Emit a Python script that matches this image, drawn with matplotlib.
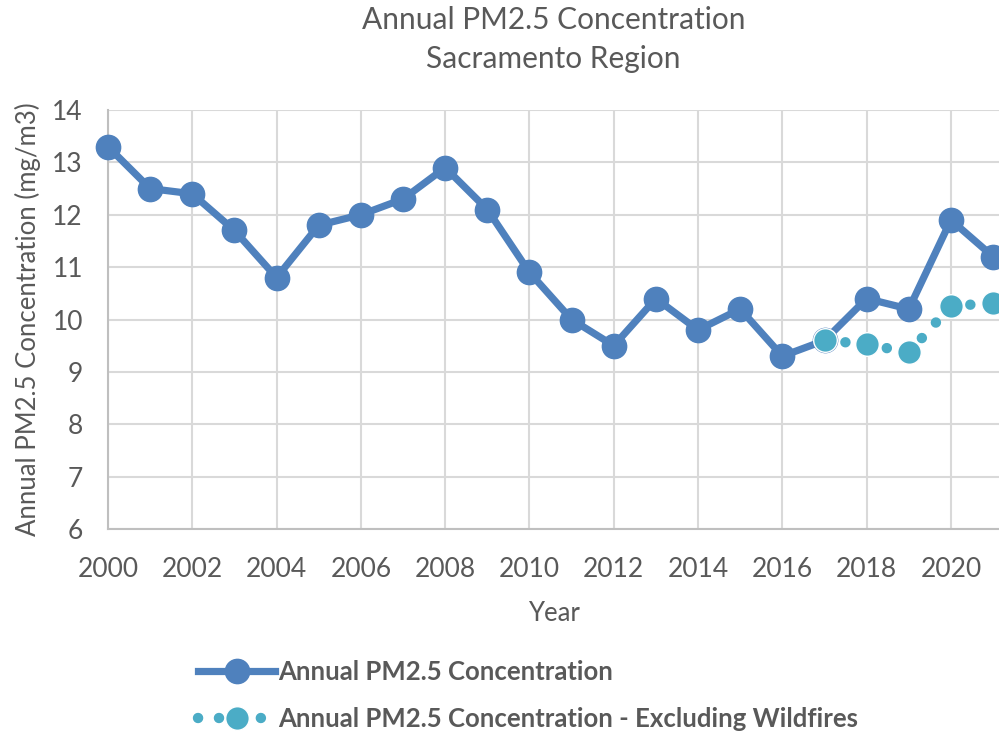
import matplotlib.pyplot as plt

plt.rcParams['font.family'] = ['Lato', 'DejaVu Sans']

years = list(range(2000, 2022))
pm25 = [13.3, 12.5, 12.4, 11.7, 10.8, 11.8, 12.0, 12.3, 12.9, 12.1, 10.9,
        10.0, 9.5, 10.4, 9.8, 10.2, 9.3, 9.6, 10.4, 10.2, 11.9, 11.2]
years_nofire = [2017, 2018, 2019, 2020, 2021]
pm25_nofire = [9.6, 9.53, 9.37, 10.26, 10.31]

gray = '#595959'
blue = '#4f81bd'
teal = '#4bacc6'

fig = plt.figure(figsize=(9.99, 7.31), dpi=100)
ax = fig.add_axes([108/999, 1 - 529/731, 1 - 108/999, (529 - 110)/731])

ax.plot(years, pm25, color=blue, lw=5.2, marker='o', ms=17.5,
        label='Annual PM2.5 Concentration', zorder=3, clip_on=False)
ax.plot(years_nofire, pm25_nofire, color=teal, lw=7.5, ls=(0, (0.01, 2.0)),
        dash_capstyle='round', marker='o', ms=17, mec='white', mew=1,
        label='Annual PM2.5 Concentration - Excluding Wildfires', zorder=4,
        clip_on=False)

ax.set_xlim(2000, 2021.14)
ax.set_ylim(6, 14)
ax.set_xticks(range(2000, 2021, 2))
ax.set_yticks(range(6, 15))
ax.grid(True, color='#d9d9d9', lw=1.5)
ax.set_axisbelow(True)
for s in ['top', 'right']:
    ax.spines[s].set_visible(False)
for s in ['left', 'bottom']:
    ax.spines[s].set_color('#bfbfbf')
    ax.spines[s].set_linewidth(1.5)
ax.tick_params(length=0, labelsize=19, colors=gray)
ax.tick_params(axis='x', pad=20)
ax.tick_params(axis='y', pad=18)

ax.set_xlabel('Year', fontsize=18.5, color=gray, labelpad=14)
ax.set_ylabel('Annual PM2.5 Concentration (mg/m3)', fontsize=18.5, color=gray, labelpad=8)
ax.set_title('Annual PM2.5 Concentration\nSacramento Region', fontsize=21.5,
             color=gray, pad=30, linespacing=1.5)

leg = fig.legend(loc='upper left', bbox_to_anchor=(188/999, 1 - 650/731),
                 frameon=False, handlelength=3.0, handletextpad=0.1,
                 labelspacing=0.9, borderaxespad=0,
                 prop={'weight': 'bold', 'size': 18.5})
for t in leg.get_texts():
    t.set_color(gray)

fig.savefig('out.png', dpi=100)
